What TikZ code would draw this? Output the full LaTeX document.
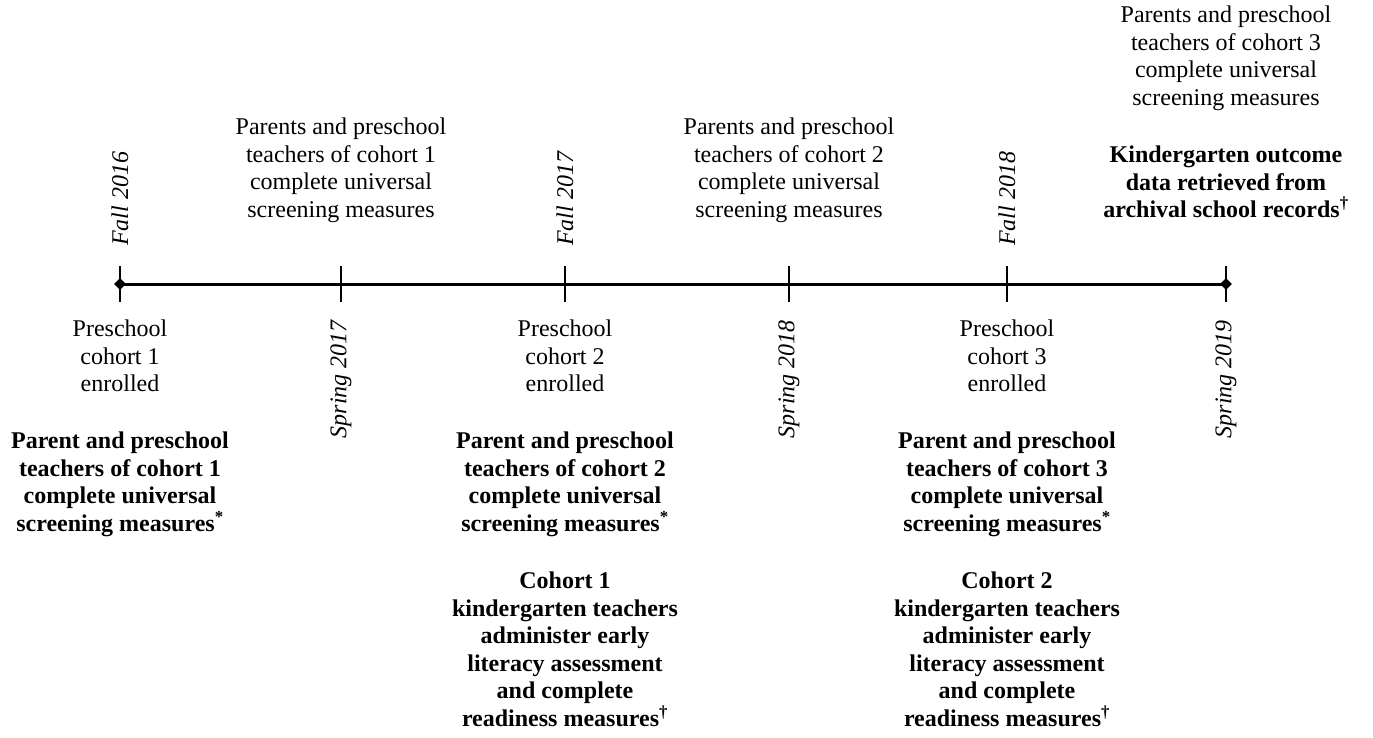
\documentclass[tikz,border=0pt]{standalone}
\usepackage{fontspec}
\setmainfont{Liberation Serif}
\usetikzlibrary{shapes.geometric}
\tikzset{
  txt/.style={inner sep=0pt,align=center,font=\fontsize{24}{27.5}\selectfont},
  note/.style={txt,anchor=north},
  boldnote/.style={txt,anchor=north,font=\fontsize{24}{27.5}\selectfont\bfseries},
  term/.style={txt,rotate=90,font=\fontsize{24}{27.5}\selectfont\itshape},
  enddot/.style={diamond,fill,inner sep=0pt,minimum size=12pt},
}
\begin{document}
\begin{tikzpicture}[x=1pt,y=-1pt]
      \useasboundingbox (0,0) rectangle (1373,737);
      \draw
        (120,284) coordinate (0)
        (341,284) coordinate (1)
        (565,284) coordinate (2)
        (789,284) coordinate (3)
        (1007,284) coordinate (4)
        (1226,284) coordinate (5);
      \begin{scope}[line width=3pt]
        \draw (0) to (5);
      \end{scope}
      \begin{scope}[line width=2pt]
        \draw (0) ++(0,-18) -- ++(0,36);
        \draw (1) ++(0,-18) -- ++(0,36);
        \draw (2) ++(0,-18) -- ++(0,36);
        \draw (3) ++(0,-18) -- ++(0,36);
        \draw (4) ++(0,-18) -- ++(0,36);
        \draw (5) ++(0,-18) -- ++(0,36);
      \end{scope}
      \node[enddot] (d0) at (0) {};
      \node[enddot] (d5) at (5) {};
      % terms
      \draw
        (120,246) node[term,anchor=west] (fall16){Fall 2016}
        (565,246) node[term,anchor=west] (fall17){Fall 2017}
        (1007,246) node[term,anchor=west] (fall18){Fall 2018}
        (341,320) node[term,anchor=east] (spr17){Spring 2017}
        (789,320) node[term,anchor=east] (spr18){Spring 2018}
        (1226,320) node[term,anchor=east] (spr19){Spring 2019};
      % above the line
      \draw
        (341,118) node[note] (par1){Parents and preschool\\teachers of cohort 1\\complete universal\\screening measures}
        (789,118) node[note] (par2){Parents and preschool\\teachers of cohort 2\\complete universal\\screening measures}
        (1226,6) node[note] (par3){Parents and preschool\\teachers of cohort 3\\complete universal\\screening measures}
        (1226,146) node[boldnote] (kout){Kindergarten outcome\\data retrieved from\\archival school records\textsuperscript{\textdagger}};
      % below the line
      \draw
        (120,320) node[note] (enr1){Preschool\\cohort 1\\enrolled}
        (565,320) node[note] (enr2){Preschool\\cohort 2\\enrolled}
        (1007,320) node[note] (enr3){Preschool\\cohort 3\\enrolled}
        (120,432) node[boldnote] (scr1){Parent and preschool\\teachers of cohort 1\\complete universal\\screening measures\textsuperscript{*}}
        (565,432) node[boldnote] (scr2){Parent and preschool\\teachers of cohort 2\\complete universal\\screening measures\textsuperscript{*}}
        (1007,432) node[boldnote] (scr3){Parent and preschool\\teachers of cohort 3\\complete universal\\screening measures\textsuperscript{*}}
        (565,572) node[boldnote] (kin1){Cohort 1\\kindergarten teachers\\administer early\\literacy assessment\\and complete\\readiness measures\textsuperscript{\textdagger}}
        (1007,572) node[boldnote] (kin2){Cohort 2\\kindergarten teachers\\administer early\\literacy assessment\\and complete\\readiness measures\textsuperscript{\textdagger}};
    \end{tikzpicture}
\end{document}
